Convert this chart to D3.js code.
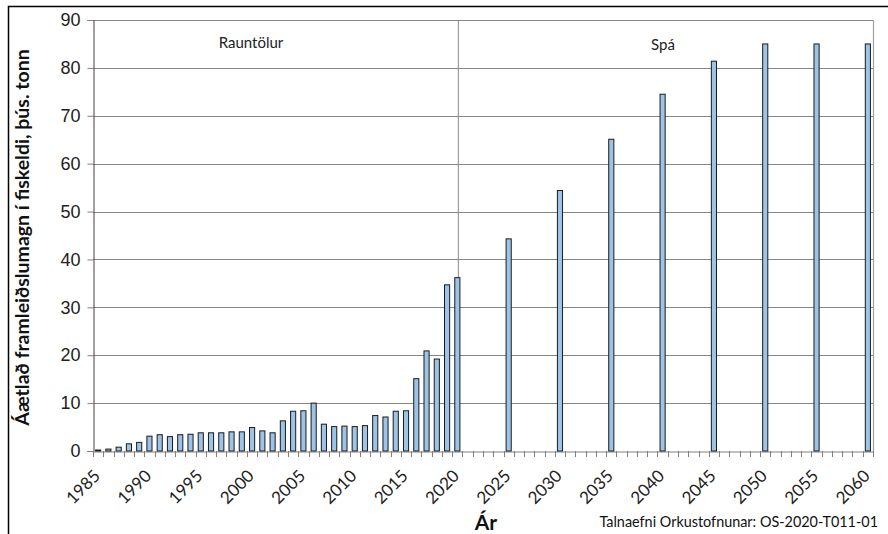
<!DOCTYPE html>
<html>
<head>
<meta charset="utf-8">
<script src="https://cdn.jsdelivr.net/npm/d3@7"></script>
<style>
  html, body { margin: 0; padding: 0; background: #fff; }
  svg { display: block; font-family: Lato, "Open Sans", sans-serif; }
</style>
</head>
<body>
<svg id="chart" width="888" height="534"></svg>
<script>
// ---- data ----
const actualYears = [1985,1986,1987,1988,1989,1990,1991,1992,1993,1994,1995,1996,1997,1998,1999,2000,
  2001,2002,2003,2004,2005,2006,2007,2008,2009,2010,2011,2012,2013,2014,2015,2016,2017,2018,2019,2020];
const actualValues = [0.2,0.4,0.8,1.5,1.8,3.1,3.4,3.0,3.4,3.5,3.8,3.8,3.8,4.0,4.0,4.9,
  4.2,3.8,6.3,8.3,8.4,10.0,5.6,5.1,5.2,5.1,5.3,7.4,7.1,8.3,8.4,15.1,20.9,19.2,34.7,36.2];
const forecastYears = [2025,2030,2035,2040,2045,2050,2055,2060];
const forecastValues = [44.3,54.4,65.1,74.5,81.4,85.0,85.0,85.0];
const firstYear = 1985, lastYear = 2060;
const tickLabels = ["1985","1990","1995","2000","2005","2010","2015","2020","2025","2030","2035","2040","2045","2050","2055","2060"];
const yTicks = [0,10,20,30,40,50,60,70,80,90];
const sectionLabels = ["Rauntölur","Spá"];
const yTitle = "Áætlað framleiðslumagn í fiskeldi, þús. tonn";
const xTitle = "Ár";
const sourceNote = "Talnaefni Orkustofnunar: OS-2020-T011-01";

// ---- layout ----
const svg = d3.select("#chart");
const L = 93, R = 873, T = 20, B = 451;
const categories = d3.range(firstYear, lastYear + 1).map(String);
const x = d3.scaleBand().domain(categories).range([L, R]).paddingInner(0).paddingOuter(0);
const y = d3.scaleLinear().domain([0, 90]).range([B, T]);
const bw = x.bandwidth() * 0.5;

// outer frame
svg.append("rect").attr("x", 8.5).attr("y", 6.5).attr("width", 890).attr("height", 540)
  .attr("fill", "none").attr("stroke", "#000").attr("stroke-width", 1.5);

// gridlines
svg.append("g").selectAll("line").data(yTicks.filter(d => d > 0)).join("line")
  .attr("x1", L).attr("x2", R)
  .attr("y1", d => Math.round(y(d)) + 0.5).attr("y2", d => Math.round(y(d)) + 0.5)
  .attr("stroke", "#868686").attr("stroke-width", 1);
// right border of plot area
svg.append("line").attr("x1", R + 0.5).attr("x2", R + 0.5).attr("y1", T).attr("y2", B)
  .attr("stroke", "#a0a0a0").attr("stroke-width", 1.2);

// divider between actual and forecast
const divX = x("2020") + x.bandwidth() / 2 + 1;
svg.append("line").attr("x1", divX).attr("x2", divX).attr("y1", T).attr("y2", B)
  .attr("stroke", "#888").attr("stroke-width", 1);

// y axis
const yAxis = d3.axisLeft(y).tickValues(yTicks).tickSize(6).tickPadding(7);
const gy = svg.append("g").attr("transform", `translate(${L + 0.5},0)`).call(yAxis);
gy.select(".domain").attr("stroke", "#404040");
gy.selectAll(".tick line").attr("stroke", "#808080");
gy.selectAll(".tick text").attr("font-size", 18).attr("fill", "#222");

// x axis
const xAxis = d3.axisBottom(x).tickValues([]).tickSize(0);
const gx = svg.append("g").attr("transform", `translate(0,${B + 0.5})`).call(xAxis);
gx.select(".domain").attr("stroke", "#808080");
// category boundary ticks
const boundaries = categories.map(c => x(c)).concat([R]);
svg.append("g").selectAll("line").data(boundaries).join("line")
  .attr("x1", d => Math.round(d) + 0.5).attr("x2", d => Math.round(d) + 0.5)
  .attr("y1", B).attr("y2", B + 6).attr("stroke", "#808080").attr("stroke-width", 1);
// x labels
svg.append("g").selectAll("text").data(tickLabels).join("text")
  .attr("transform", d => `translate(${x(d) + x.bandwidth() / 2 + 3},${B + 26}) rotate(-45)`)
  .attr("text-anchor", "end").attr("font-size", 17).attr("fill", "#222")
  .text(d => d);

// bars
const barData = actualYears.map((yr, i) => ({ yr: String(yr), v: actualValues[i] }))
  .concat(forecastYears.map((yr, i) => ({ yr: String(yr), v: forecastValues[i] })));
svg.append("g").selectAll("rect").data(barData).join("rect")
  .attr("x", d => x(d.yr) + (x.bandwidth() - bw) / 2)
  .attr("y", d => y(d.v))
  .attr("width", bw)
  .attr("height", d => B - y(d.v))
  .attr("fill", "#9dc3e6").attr("stroke", "#1a1a1a").attr("stroke-width", 1);

// section labels
svg.append("text").attr("x", 251).attr("y", 48).attr("text-anchor", "middle")
  .attr("font-size", 15).attr("fill", "#222").text(sectionLabels[0]);
svg.append("text").attr("x", 663).attr("y", 50).attr("text-anchor", "middle")
  .attr("font-size", 15).attr("fill", "#222").text(sectionLabels[1]);

// axis titles
svg.append("text").attr("transform", `translate(29,${(T + B) / 2 + 2}) rotate(-90)`)
  .attr("text-anchor", "middle").attr("font-size", 19.5).attr("font-weight", "bold")
  .attr("fill", "#111").text(yTitle);
svg.append("text").attr("x", 486).attr("y", 530).attr("text-anchor", "middle")
  .attr("font-size", 21).attr("font-weight", "bold").attr("fill", "#111").text(xTitle);
svg.append("text").attr("x", 878).attr("y", 527).attr("text-anchor", "end")
  .attr("font-size", 14.4).attr("fill", "#111").text(sourceNote);
</script>
</body>
</html>
